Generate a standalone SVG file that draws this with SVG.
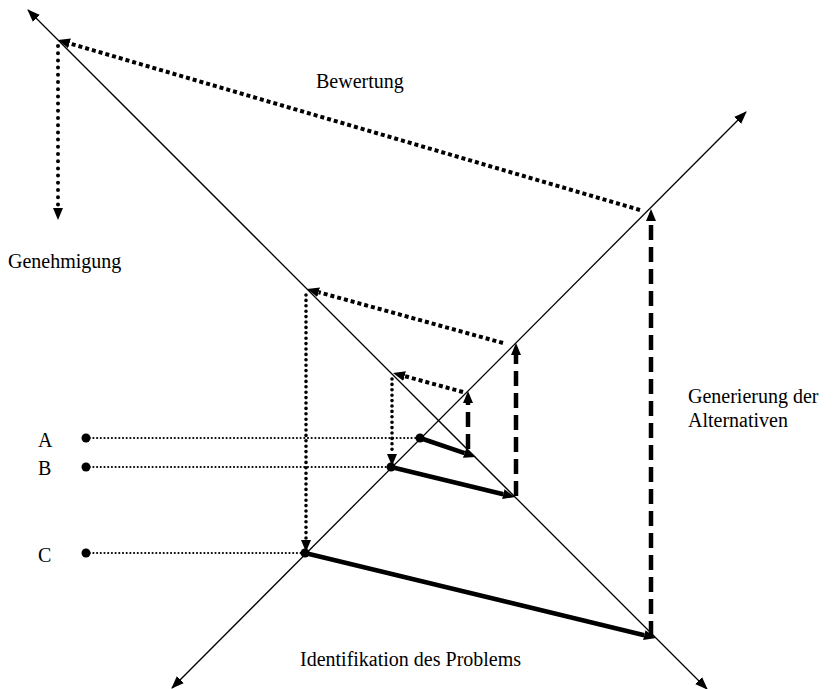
<svg xmlns="http://www.w3.org/2000/svg" width="834" height="689" viewBox="0 0 834 689">
<defs>
<marker id="ax" markerUnits="userSpaceOnUse" markerWidth="13" markerHeight="10" refX="12" refY="5" orient="auto-start-reverse"><path d="M0,0 L13,5 L0,10 z" fill="#000"/></marker>
<marker id="h" markerUnits="userSpaceOnUse" markerWidth="12" markerHeight="10" refX="0" refY="5" orient="auto"><path d="M0,0 L12,5 L0,10 z" fill="#000"/></marker>
</defs>
<style>
.axis{stroke:#000;stroke-width:1.3;fill:none}
.solid{stroke:#000;stroke-width:4.5;fill:none}
.dash{stroke:#000;stroke-width:4.5;stroke-dasharray:15 7;fill:none}
.sq{stroke:#000;stroke-width:4;stroke-dasharray:4 3;fill:none}
.rd{stroke:#000;stroke-width:3.6;stroke-linecap:round;stroke-dasharray:0 5.4;fill:none}
.rd2{stroke:#000;stroke-width:4;stroke-linecap:round;stroke-dasharray:0 7.2;fill:none}
.sm{stroke:#000;stroke-width:2.2;stroke-linecap:round;stroke-dasharray:0 3.7;fill:none}
text{font-family:"Liberation Serif","Times New Roman",serif;font-size:20px;fill:#000}
</style>
<rect width="834" height="689" fill="#fff"/>
<g id="connectors">
<line class="axis" x1="28" y1="10" x2="707" y2="689" marker-start="url(#ax)" marker-end="url(#ax)"/>
<line class="axis" x1="172" y1="688" x2="746" y2="112" marker-start="url(#ax)" marker-end="url(#ax)"/>
<line class="sm" x1="86" y1="438" x2="420" y2="438"/>
<line class="sm" x1="86" y1="467" x2="391" y2="467"/>
<line class="sm" x1="86" y1="553" x2="305" y2="553"/>
<line class="solid" x1="420" y1="438" x2="464.6" y2="453.1" marker-end="url(#h)"/>
<line class="solid" x1="391" y1="467" x2="503.3" y2="494.2" marker-end="url(#h)"/>
<line class="solid" x1="305" y1="553" x2="644.3" y2="635.2" marker-end="url(#h)"/>
<line class="dash" x1="468" y1="449" x2="468" y2="403" marker-end="url(#h)"/>
<line class="dash" x1="516" y1="496" x2="516" y2="355" marker-end="url(#h)"/>
<line class="dash" x1="651" y1="636" x2="651" y2="221" marker-end="url(#h)"/>
<line class="sq" x1="463" y1="392" x2="404.6" y2="376.1" marker-end="url(#h)"/>
<line class="sq" x1="503" y1="343" x2="318.6" y2="292.2" marker-end="url(#h)"/>
<line class="sq" x1="640" y1="210" x2="69.5" y2="43.4" marker-end="url(#h)"/>
<line class="rd2" x1="58" y1="46" x2="58" y2="208" marker-end="url(#h)"/>
<line class="rd" x1="306" y1="295" x2="306" y2="540" marker-end="url(#h)"/>
<line class="rd" x1="392" y1="379" x2="392" y2="454" marker-end="url(#h)"/>
</g>
<g id="dot-A"><circle cx="86" cy="438" r="4.5"/><circle cx="420" cy="438" r="4.5"/><text x="38" y="447">A</text></g>
<g id="dot-B"><circle cx="86" cy="467" r="4.5"/><circle cx="391" cy="467" r="4.5"/><text x="38" y="475">B</text></g>
<g id="dot-C"><circle cx="86" cy="553" r="4.5"/><circle cx="305" cy="553" r="4.5"/><text x="38" y="562">C</text></g>
<g id="label-bewertung"><text x="316" y="88">Bewertung</text></g>
<g id="label-genehmigung"><text x="8" y="268">Genehmigung</text></g>
<g id="label-generierung"><text x="688" y="403">Generierung der</text><text x="688" y="427">Alternativen</text></g>
<g id="label-identifikation"><text x="300" y="666">Identifikation des Problems</text></g>
</svg>
